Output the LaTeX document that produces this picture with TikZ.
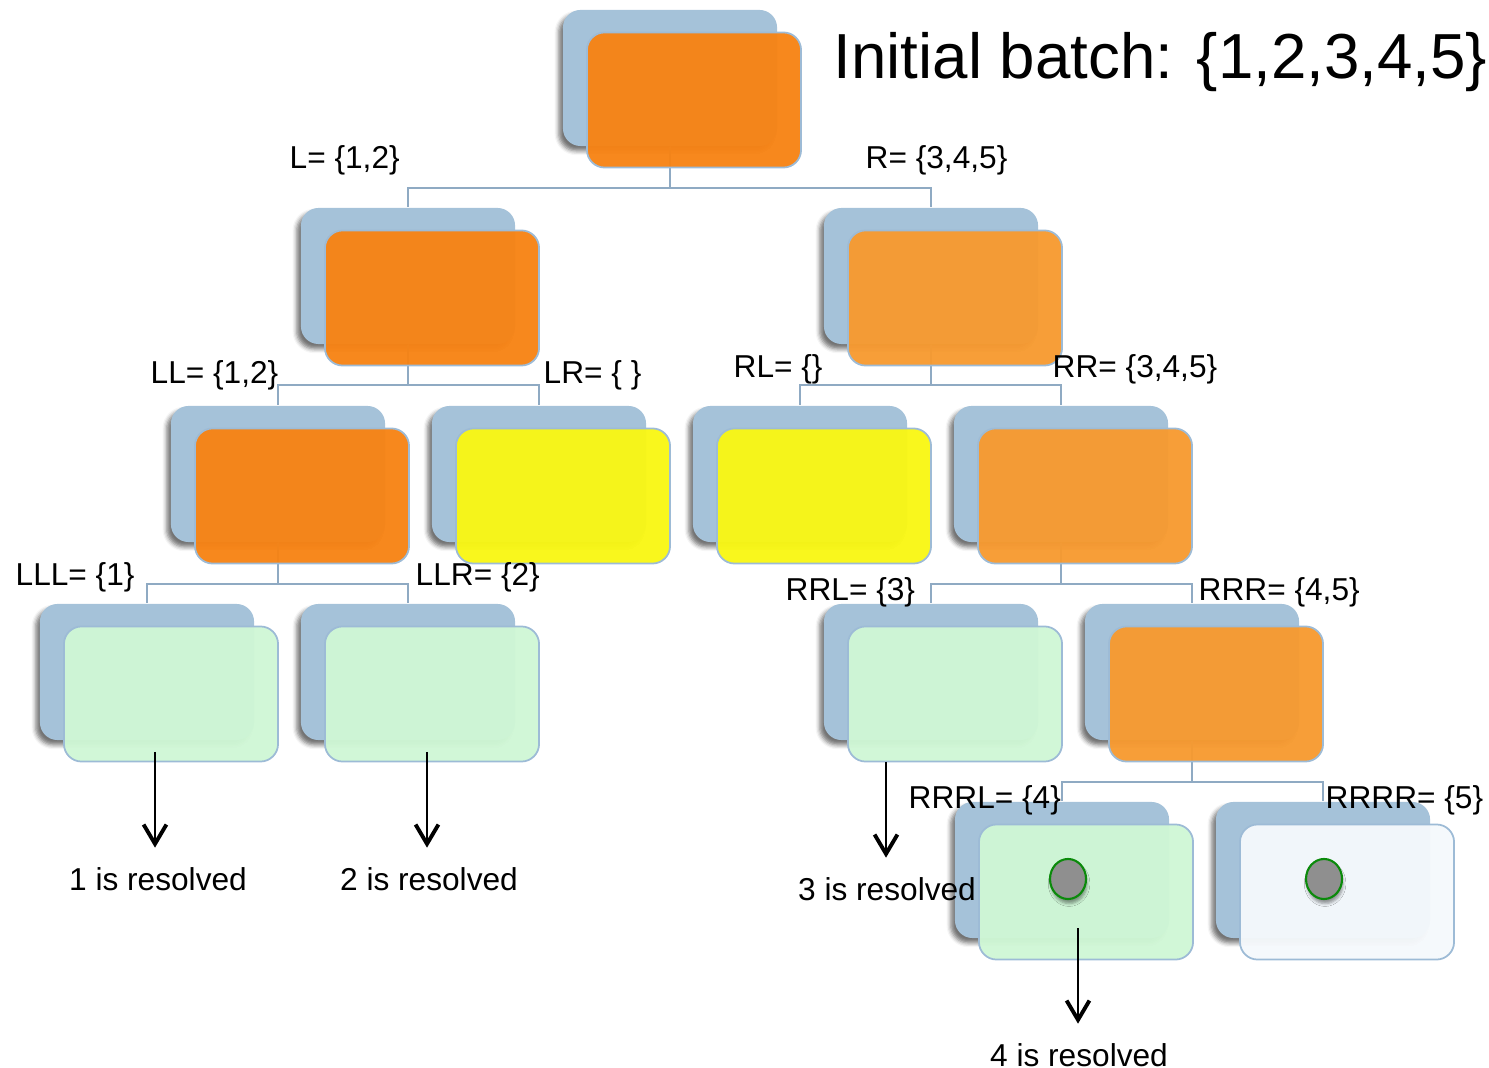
\documentclass[tikz,border=0pt]{standalone}
\usepackage{fontspec}
\setmainfont{Liberation Sans}
\usetikzlibrary{arrows.meta,shadows.blur,shapes.geometric,calc}

\definecolor{backblue}{HTML}{A5C2D9}
\definecolor{edgeblue}{HTML}{9DBBD6}
\definecolor{linkblue}{HTML}{8FAAC3}
\definecolor{deeporange}{HTML}{F78314}
\definecolor{softorange}{HTML}{F79A30}
\definecolor{brightyellow}{HTML}{F9F714}
\definecolor{mintgreen}{HTML}{CFF7D5}
\definecolor{paleblue}{HTML}{F5F9FC}
\definecolor{dotgray}{HTML}{8F8F8F}
\definecolor{dotgreen}{HTML}{0B8A0B}

\tikzset{
  backbox/.style={rounded corners=5pt, fill=backblue, minimum width=2.14cm,
    minimum height=1.36cm, inner sep=0pt,
    blur shadow={shadow xshift=-1.2pt, shadow yshift=-1.4pt,
      shadow blur radius=1.2pt, shadow opacity=55}},
  frontbox/.style={rounded corners=5pt, draw=edgeblue, line width=0.5pt,
    fill opacity=0.96, minimum width=2.14cm, minimum height=1.35cm, inner sep=0pt},
  link/.style={draw=linkblue, line width=0.6pt},
  setlabel/.style={anchor=west, inner sep=0pt, font=\fontsize{9}{10}\selectfont},
  result/.style={inner sep=0pt, font=\fontsize{9}{10}\selectfont},
  resolve/.style={line width=0.45pt,
    -{Straight Barb[length=5.5pt,width=6.5pt,line width=1.1pt]}},
  token/.style={ellipse, fill=dotgray, draw=dotgreen, line width=0.6pt,
    minimum width=0.36cm, minimum height=0.40cm, inner sep=0pt,
    blur shadow={shadow xshift=0.3pt, shadow yshift=-1.3pt,
      shadow blur radius=0.8pt, shadow opacity=40}}
}

% back card: name, left x, top y
\newcommand\backcard[3]{\node[backbox] (#1b) at (#2+107, #3+68) {};}
% front card: name, left x of back card, top y of back card, fill colour
\newcommand\frontcard[4]{\node[frontbox, fill=#4] (#1) at (#2+131, #3+90) {};}

\begin{document}
\begin{tikzpicture}[x=0.01cm, y=-0.01cm]
\useasboundingbox (0,0) rectangle (1489,1068);

% back cards
\backcard{root}{563}{10}
\backcard{L}{301}{208}
\backcard{R}{824}{208}
\backcard{LL}{171}{406}
\backcard{LR}{432}{406}
\backcard{RL}{693}{406}
\backcard{RR}{954}{406}
\backcard{LLL}{40}{604}
\backcard{LLR}{301}{604}
\backcard{RRL}{824}{604}
\backcard{RRR}{1085}{604}
\backcard{RRRL}{955}{802}
\backcard{RRRR}{1216}{802}

% tree links
\draw[link] (rootb.south) -- ++(0,41) -| (Lb.north);
\draw[link] (rootb.south) -- ++(0,41) -| (Rb.north);
\draw[link] (Lb.south) -- ++(0,40) -| (LLb.north);
\draw[link] (Lb.south) -- ++(0,40) -| (LRb.north);
\draw[link] (Rb.south) -- ++(0,40) -| (RLb.north);
\draw[link] (Rb.south) -- ++(0,40) -| (RRb.north);
\draw[link] (LLb.south) -- ++(0,41) -| (LLLb.north);
\draw[link] (LLb.south) -- ++(0,41) -| (LLRb.north);
\draw[link] (RRb.south) -- ++(0,41) -| (RRLb.north);
\draw[link] (RRb.south) -- ++(0,41) -| (RRRb.north);
\draw[link] (RRRb.south) -- ++(0,41) -| (RRRLb.north);
\draw[link] (RRRb.south) -- ++(0,41) -| (RRRRb.north);

% front cards
\frontcard{root}{563}{10}{deeporange}
\frontcard{L}{301}{208}{deeporange}
\frontcard{R}{824}{208}{softorange}
\frontcard{LL}{171}{406}{deeporange}
\frontcard{LR}{432}{406}{brightyellow}
\frontcard{RL}{693}{406}{brightyellow}
\frontcard{RR}{954}{406}{softorange}
\frontcard{LLL}{40}{604}{mintgreen}
\frontcard{LLR}{301}{604}{mintgreen}
\frontcard{RRL}{824}{604}{mintgreen}
\frontcard{RRR}{1085}{604}{softorange}
\frontcard{RRRL}{955}{802}{mintgreen}
\frontcard{RRRR}{1216}{802}{paleblue}

% title
\node[anchor=west, inner sep=0pt, font=\fontsize{18.1}{20}\selectfont]
  (title) at (833,62) {Initial batch: \{1,2,3,4,5\}};

% set labels
\node[setlabel] (lblL)    at (289,160) {L= \{1,2\}};
\node[setlabel] (lblR)    at (865,160) {R= \{3,4,5\}};
\node[setlabel] (lblLL)   at (150,375) {LL= \{1,2\}};
\node[setlabel] (lblLR)   at (543,375) {LR= \{ \}};
\node[setlabel] (lblRL)   at (733,369) {RL= \{\}};
\node[setlabel] (lblRR)   at (1052,369) {RR= \{3,4,5\}};
\node[setlabel] (lblLLL)  at (15,577) {LLL= \{1\}};
\node[setlabel] (lblLLR)  at (415,577) {LLR= \{2\}};
\node[setlabel] (lblRRL)  at (785,592) {RRL= \{3\}};
\node[setlabel] (lblRRR)  at (1198,592) {RRR= \{4,5\}};
\node[setlabel] (lblRRRL) at (908,800) {RRRL= \{4\}};
\node[setlabel] (lblRRRR) at (1325,800) {RRRR= \{5\}};

% tokens still in the batch
\node[token] (tok4) at (1068,879) {};
\node[token] (tok5) at (1324,879) {};

% resolved items
\node[result] (res1) at (158,879) {1 is resolved};
\node[result] (res2) at (429,879) {2 is resolved};
\node[result] (res3) at (887,889) {3 is resolved};
\node[result] (res4) at (1079,1055) {4 is resolved};

\coordinate (s1) at (155,752);
\coordinate (s2) at (427,752);
\coordinate (s3) at (886,762);
\coordinate (s4) at (1078,928);
\draw[resolve] (s1) -- ($(s1 |- res1.north)+(0,-19)$);
\draw[resolve] (s2) -- ($(s2 |- res2.north)+(0,-19)$);
\draw[resolve] (s3) -- ($(s3 |- res3.north)+(0,-19)$);
\draw[resolve] (s4) -- ($(s4 |- res4.north)+(0,-19)$);
\end{tikzpicture}
\end{document}
